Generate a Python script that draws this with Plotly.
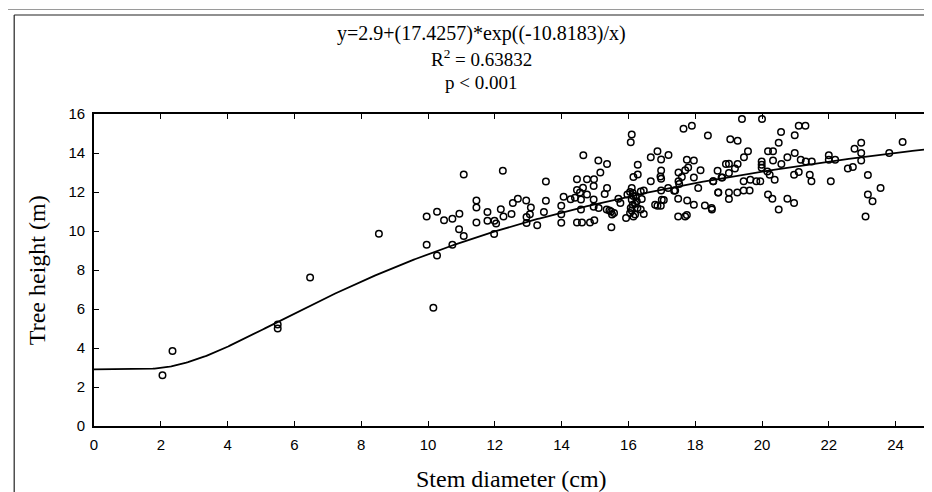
import plotly.graph_objects as go
import numpy as np

# Stem diameter (cm) and tree height (m) observations
diameter = [
    2.05, 2.35, 5.5, 5.5, 6.47, 8.53, 10.16,
    9.96, 10.27, 10.48, 10.73, 10.94, 10.93, 11.07, 9.96, 10.27, 10.73, 11.07, 12.24,
    11.45, 11.45, 11.45, 11.78, 11.78, 11.99, 12.04, 11.98, 12.18, 12.26, 12.5, 12.54, 12.69,
    12.94, 12.95, 12.95, 13.05, 13.08, 13.27, 13.47, 13.53, 13.53, 13.99, 13.99, 13.99,
    14.06, 14.27, 14.4, 14.58, 14.46, 14.64, 14.55, 14.76, 14.46, 14.76, 14.97, 14.96,
    15.36, 15.29, 14.96, 14.58, 14.96, 15.11, 15.35, 15.48, 15.51, 15.7, 15.76, 15.97,
    16.1, 16.13, 16.22, 16.25, 16.13, 16.05, 16.2, 15.93, 16.37, 16.37, 14.46, 14.61,
    14.85, 14.98, 15.49, 14.65, 15.1, 15.36, 15.16, 16.28, 16.15, 16.28, 16.07, 15.57,
    15.43, 16.27, 16.07, 16.1, 16.15, 16.05, 16.2, 16.4, 16.1,
    16.46, 16.46, 16.67, 16.67, 16.87, 16.98, 16.98, 16.98, 16.96, 16.98, 17.06, 16.87,
    16.97, 16.8, 17.0, 17.19, 17.37, 17.4, 17.5, 17.6, 17.52, 17.5, 17.75, 17.96,
    17.79, 17.7, 18.16, 17.96, 18.09, 18.67, 18.92, 18.54, 18.79, 17.49, 17.76, 17.96,
    18.29, 18.49, 18.5, 18.69, 17.49, 17.7, 17.75, 16.15, 18.38,
    19.27, 20.57, 20.98, 21.3, 20.5, 19.58, 20.18, 20.33, 19.46, 19.27, 19.01, 19.99,
    19.99, 20.33, 20.58, 20.76, 20.98, 21.16, 21.31, 21.49, 22.0, 22.0, 22.19, 22.77,
    22.97, 22.97, 22.97, 23.81, 24.21, 22.57, 22.72, 23.17, 23.17, 23.31, 23.1, 23.55,
    22.06, 21.43, 21.48, 20.96, 21.1, 20.76, 20.96, 20.5, 20.31, 20.18, 20.38, 20.23,
    20.16, 19.99, 19.83, 19.95, 19.65, 19.45, 19.45, 19.63, 19.26, 19.01, 19.01, 18.69,
    18.81, 19.01, 19.19, 18.54,
    16.1, 17.9, 17.65, 19.4, 20.0, 21.1, 17.2, 19.05,
]
height = [
    2.6, 3.85, 5.2, 5.0, 7.62, 9.86, 6.07,
    10.75, 10.99, 10.55, 10.63, 10.89, 10.09, 9.74, 9.3, 8.75, 9.3, 12.9, 13.09,
    11.56, 11.21, 10.43, 10.97, 10.53, 10.53, 10.39, 9.85, 11.11, 10.75, 10.87, 11.44, 11.66,
    11.56, 10.72, 10.41, 10.86, 11.2, 10.3, 10.98, 11.55, 12.54, 11.3, 10.86, 10.42,
    11.76, 11.63, 11.7, 11.62, 12.1, 12.22, 11.97, 11.87, 12.65, 12.65, 12.65, 12.31,
    12.21, 11.9, 11.62, 11.1, 11.25, 11.18, 11.1, 11.0, 10.85, 11.66, 11.44, 11.87,
    12.21, 11.95, 11.78, 11.52, 11.35, 10.92, 10.84, 10.67, 11.1, 12.03, 10.43, 10.43,
    10.43, 10.55, 10.19, 13.88, 13.62, 13.44, 13.0, 13.4, 12.77, 12.9, 14.55, 10.92,
    11.05, 11.18, 11.18, 11.6, 11.8, 12.0, 11.4, 11.64, 11.05,
    12.08, 10.87, 12.55, 13.78, 14.09, 13.67, 13.1, 12.68, 12.8, 12.08, 11.59, 11.3,
    11.3, 11.35, 11.6, 12.21, 12.07, 12.08, 13.0, 12.77, 12.41, 12.55, 13.66, 13.61,
    13.26, 13.11, 13.11, 12.75, 12.21, 13.09, 13.44, 12.55, 12.75, 11.66, 11.56, 11.35,
    11.31, 11.18, 11.1, 11.98, 10.75, 10.75, 10.82, 10.75, 14.9,
    14.63, 15.08, 14.91, 15.4, 14.53, 14.09, 14.09, 14.09, 13.78, 13.44, 13.45, 13.57,
    13.4, 13.62, 13.44, 13.78, 14.0, 13.66, 13.57, 13.57, 13.88, 13.66, 13.66, 14.22,
    14.53, 14.0, 13.62, 14.0, 14.56, 13.2, 13.28, 12.87, 11.87, 11.52, 10.75, 12.21,
    12.55, 12.89, 12.55, 12.89, 13.02, 11.66, 11.44, 11.1, 11.66, 11.87, 12.63, 12.89,
    13.05, 13.25, 12.55, 12.55, 12.63, 12.55, 12.08, 12.08, 11.98, 11.98, 11.64, 11.98,
    12.75, 12.97, 13.2, 12.55,
    14.95, 15.4, 15.25, 15.75, 15.75, 15.4, 13.9, 14.7,
]

# Fitted model shown in the chart: y = a + b*exp(c/x)
fit_a = 2.9
fit_b = 17.4257
fit_c = -10.8183
equation_text = "y=2.9+(17.4257)*exp((-10.8183)/x)"
r_squared = "0.63832"
p_text = "p < 0.001"

x_title = "Stem diameter (cm)"
y_title = "Tree height (m)"
x_ticks = list(range(0, 26, 2))
y_ticks = list(range(0, 17, 2))

xf = np.linspace(0.01, 25, 500)
yf = fit_a + fit_b * np.exp(fit_c / xf)
xf = np.concatenate([[0.0], xf])
yf = np.concatenate([[fit_a], yf])

fig = go.Figure()
fig.add_trace(go.Scatter(x=xf, y=yf, mode="lines",
                         line=dict(color="black", width=1.8),
                         hoverinfo="skip", showlegend=False))
fig.add_trace(go.Scatter(x=diameter, y=height, mode="markers",
                         marker=dict(symbol="circle-open", size=6.5,
                                     color="black", line=dict(width=1.5, color="black")),
                         showlegend=False))

serif = "Liberation Serif, Times New Roman, serif"
sans = "Liberation Sans, Arial, sans-serif"

# plot area: x 86..923 px, y 106..418 px
PL, PR, PT, PB = 86, 923, 106, 418
W, H = 932, 492
pw, ph = PR - PL, PB - PT


def px(xp):
    return (xp - PL) / pw


def py(yp):
    return (PB - yp) / ph


fig.update_layout(
    width=W, height=H,
    margin=dict(l=PL, r=W - PR, t=PT, b=H - PB),
    paper_bgcolor="white", plot_bgcolor="white",
    showlegend=False,
    xaxis=dict(range=[0, 25], tickvals=x_ticks, ticks="inside", ticklen=5,
               tickwidth=1.2, tickcolor="black", showline=True, linecolor="black",
               linewidth=1.6, mirror="ticks", showgrid=False, zeroline=False,
               ticklabelstandoff=4,
               tickfont=dict(family=sans, size=15, color="black")),
    yaxis=dict(range=[0, 16], tickvals=y_ticks, ticks="inside", ticklen=5,
               tickwidth=1.2, tickcolor="black", showline=True, linecolor="black",
               linewidth=1.6, mirror="ticks", showgrid=False, zeroline=False,
               ticklabelstandoff=4,
               tickfont=dict(family=sans, size=15, color="black")),
    shapes=[
        dict(type="line", xref="paper", yref="paper", x0=px(6), x1=px(W + 10), y0=py(7), y1=py(7),
             line=dict(color="#222222", width=1.2)),
        dict(type="line", xref="paper", yref="paper", x0=px(6), x1=px(6), y0=py(7), y1=py(H + 10),
             line=dict(color="#222222", width=1.2)),
        dict(type="line", xref="paper", yref="paper", x0=px(-5), x1=px(W + 10), y0=py(1.5), y1=py(1.5),
             line=dict(color="#9a9a9a", width=1.2)),
    ],
    annotations=[
        dict(text=equation_text, xref="paper", yref="paper",
             x=px(474), y=py(25), showarrow=False, yanchor="middle",
             font=dict(family=serif, size=20, color="black")),
        dict(text="R<sup>2</sup> = " + r_squared, xref="paper", yref="paper",
             x=px(474), y=py(50), showarrow=False, yanchor="middle",
             font=dict(family=serif, size=19, color="black")),
        dict(text=p_text, xref="paper", yref="paper",
             x=px(474), y=py(74.5), showarrow=False, yanchor="middle",
             font=dict(family=serif, size=19, color="black")),
        dict(text=x_title, xref="paper", yref="paper",
             x=0.5, y=py(471), showarrow=False, yanchor="middle", xanchor="center",
             font=dict(family=serif, size=24, color="black")),
        dict(text=y_title, xref="paper", yref="paper", textangle=-90,
             x=px(29), y=0.5, showarrow=False, yanchor="middle", xanchor="center",
             font=dict(family=serif, size=24, color="black")),
    ],
)

fig.write_html("out.html")
